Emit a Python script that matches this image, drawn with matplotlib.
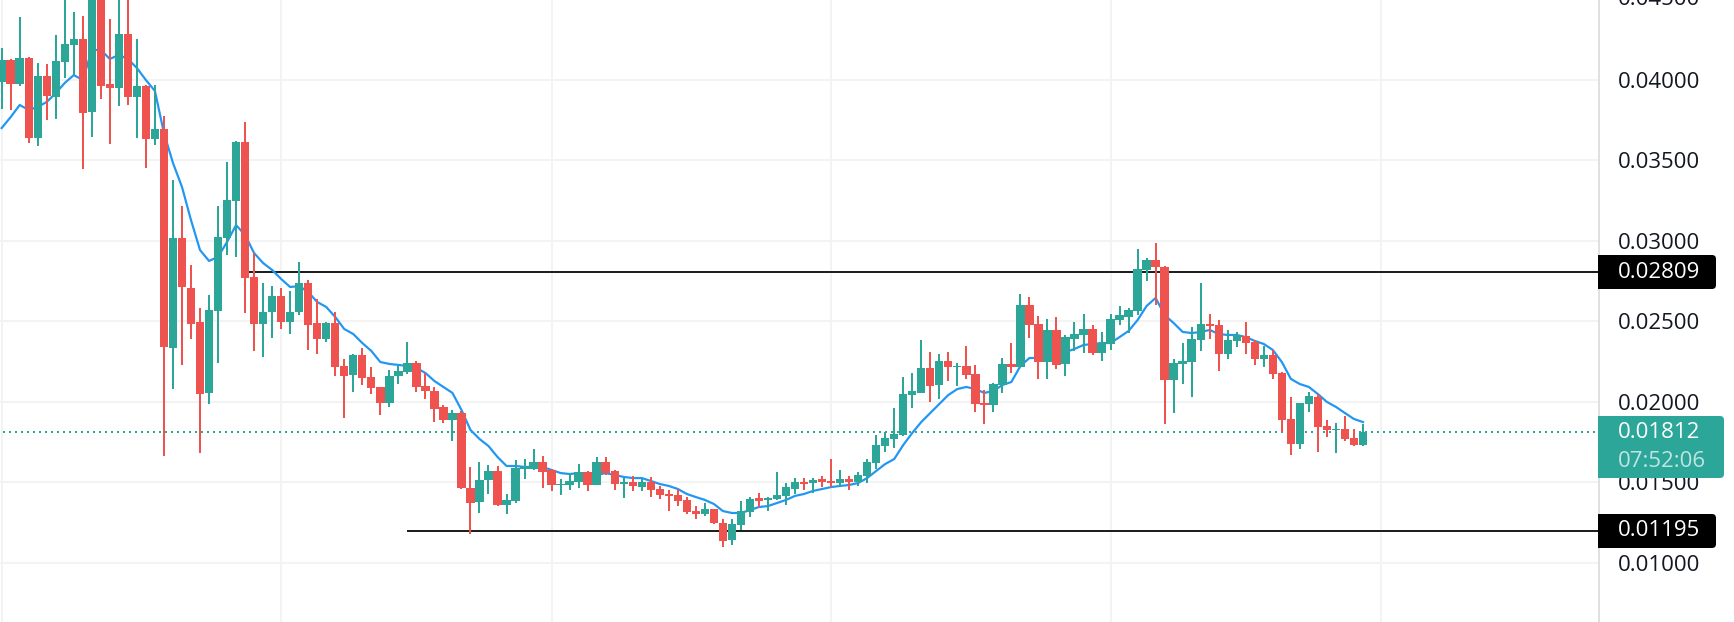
import matplotlib
matplotlib.use('Agg')
import matplotlib.pyplot as plt
from matplotlib.patches import FancyBboxPatch, Rectangle
from matplotlib.transforms import IdentityTransform

plt.rcParams['font.family'] = 'Open Sans'

# ohlc, one entry per daily candle
opens = [
    0.03987, 0.04124, 0.03975, 0.04136, 0.03639, 0.04024, 0.03894, 0.04111, 0.04217, 0.04254,
    0.03800, 0.04509, 0.03975, 0.03950, 0.04285, 0.03894, 0.03962, 0.03633, 0.03695, 0.02334,
    0.03018, 0.02707, 0.02496, 0.02055, 0.02564, 0.03018, 0.03247, 0.03614, 0.02775, 0.02483,
    0.02558, 0.02657, 0.02496, 0.02558, 0.02738, 0.02489, 0.02390, 0.02489, 0.02222, 0.02166,
    0.02291, 0.02154, 0.02092, 0.01992, 0.02160, 0.02185, 0.02241, 0.02098, 0.02067, 0.01968,
    0.01887, 0.01930, 0.01464, 0.01377, 0.01514, 0.01570, 0.01359, 0.01383, 0.01582, 0.01582,
    0.01626, 0.01576, 0.01483, 0.01483, 0.01501, 0.01564, 0.01483, 0.01626, 0.01570, 0.01489,
    0.01501, 0.01470, 0.01501, 0.01458, 0.01427, 0.01421, 0.01390, 0.01321, 0.01303, 0.01334,
    0.01247, 0.01141, 0.01234, 0.01315, 0.01402, 0.01390, 0.01396, 0.01415, 0.01458, 0.01501,
    0.01495, 0.01520, 0.01508, 0.01495, 0.01520, 0.01501, 0.01539, 0.01620, 0.01725, 0.01769,
    0.01794, 0.02042, 0.02055, 0.02210, 0.02104, 0.02253, 0.02216, 0.02222, 0.02173, 0.01992,
    0.01980, 0.02104, 0.02235, 0.02216, 0.02601, 0.02483, 0.02247, 0.02446, 0.02235, 0.02390,
    0.02415, 0.02452, 0.02303, 0.02359, 0.02508, 0.02527, 0.02564, 0.02819, 0.02881, 0.02837,
    0.02135, 0.02235, 0.02247, 0.02384, 0.02483, 0.02477, 0.02297, 0.02378, 0.02409, 0.02371,
    0.02266, 0.02291, 0.02179, 0.01893, 0.01738, 0.01986, 0.02030, 0.01849, 0.01825, 0.01831,
    0.01775, 0.01731,
]
highs = [
    0.04198, 0.04130, 0.04391, 0.04142, 0.04105, 0.04099, 0.04279, 0.04527, 0.04422, 0.04397,
    0.04527, 0.04527, 0.04378, 0.04527, 0.04527, 0.04254, 0.03968, 0.03968, 0.03776, 0.03378,
    0.03216, 0.02850, 0.02583, 0.02663, 0.03216, 0.03490, 0.03620, 0.03738, 0.02924, 0.02738,
    0.02719, 0.02707, 0.02688, 0.02869, 0.02757, 0.02639, 0.02496, 0.02558, 0.02266, 0.02297,
    0.02334, 0.02216, 0.02092, 0.02197, 0.02222, 0.02371, 0.02253, 0.02179, 0.02092, 0.01980,
    0.01949, 0.01943, 0.01595, 0.01626, 0.01607, 0.01601, 0.01427, 0.01638, 0.01644, 0.01707,
    0.01663, 0.01582, 0.01520, 0.01557, 0.01613, 0.01570, 0.01657, 0.01657, 0.01576, 0.01526,
    0.01539, 0.01520, 0.01533, 0.01477, 0.01452, 0.01458, 0.01408, 0.01352, 0.01371, 0.01334,
    0.01272, 0.01272, 0.01383, 0.01408, 0.01433, 0.01408, 0.01564, 0.01495, 0.01526, 0.01526,
    0.01526, 0.01539, 0.01644, 0.01576, 0.01539, 0.01564, 0.01644, 0.01794, 0.01812, 0.01961,
    0.02154, 0.02179, 0.02384, 0.02309, 0.02297, 0.02309, 0.02241, 0.02347, 0.02229, 0.02073,
    0.02117, 0.02272, 0.02365, 0.02670, 0.02651, 0.02533, 0.02514, 0.02527, 0.02415, 0.02496,
    0.02545, 0.02477, 0.02434, 0.02545, 0.02595, 0.02583, 0.02949, 0.02893, 0.02987, 0.02844,
    0.02266, 0.02365, 0.02465, 0.02738, 0.02545, 0.02508, 0.02446, 0.02434, 0.02496, 0.02384,
    0.02347, 0.02322, 0.02185, 0.02030, 0.01992, 0.02061, 0.02048, 0.01887, 0.01868, 0.01912,
    0.01831, 0.01862,
]
lows = [
    0.03819, 0.03813, 0.03962, 0.03608, 0.03589, 0.03751, 0.03757, 0.04012, 0.04030, 0.03446,
    0.03645, 0.03881, 0.03602, 0.03838, 0.03844, 0.03639, 0.03453, 0.03595, 0.01663, 0.02079,
    0.02229, 0.02390, 0.01682, 0.01986, 0.02241, 0.02912, 0.02900, 0.02552, 0.02316, 0.02278,
    0.02396, 0.02452, 0.02421, 0.02539, 0.02322, 0.02297, 0.02371, 0.02160, 0.01899, 0.02061,
    0.02104, 0.02048, 0.01918, 0.01968, 0.02110, 0.02173, 0.02061, 0.02017, 0.01874, 0.01868,
    0.01756, 0.01458, 0.01178, 0.01309, 0.01427, 0.01352, 0.01303, 0.01371, 0.01520, 0.01576,
    0.01464, 0.01446, 0.01421, 0.01452, 0.01464, 0.01446, 0.01483, 0.01545, 0.01452, 0.01402,
    0.01446, 0.01446, 0.01408, 0.01396, 0.01321, 0.01352, 0.01303, 0.01272, 0.01290, 0.01240,
    0.01098, 0.01110, 0.01203, 0.01284, 0.01346, 0.01321, 0.01390, 0.01359, 0.01427, 0.01452,
    0.01433, 0.01470, 0.01470, 0.01470, 0.01452, 0.01477, 0.01495, 0.01582, 0.01688, 0.01713,
    0.01787, 0.01961, 0.02055, 0.01999, 0.02017, 0.02129, 0.02098, 0.02142, 0.01936, 0.01862,
    0.01936, 0.02055, 0.02179, 0.02216, 0.02396, 0.02142, 0.02142, 0.02204, 0.02160, 0.02316,
    0.02303, 0.02291, 0.02253, 0.02322, 0.02477, 0.02427, 0.02539, 0.02750, 0.02601, 0.01862,
    0.01930, 0.02110, 0.02030, 0.02316, 0.02390, 0.02191, 0.02266, 0.02340, 0.02297, 0.02229,
    0.02216, 0.02142, 0.01812, 0.01669, 0.01707, 0.01936, 0.01688, 0.01781, 0.01682, 0.01756,
    0.01725, 0.01725,
]
closes = [
    0.04124, 0.03975, 0.04136, 0.03639, 0.04024, 0.03900, 0.04117, 0.04223, 0.04254, 0.03794,
    0.04509, 0.03962, 0.03950, 0.04285, 0.03894, 0.03962, 0.03633, 0.03695, 0.02340, 0.03018,
    0.02713, 0.02483, 0.02048, 0.02570, 0.03024, 0.03254, 0.03614, 0.02769, 0.02483, 0.02558,
    0.02657, 0.02496, 0.02558, 0.02738, 0.02477, 0.02390, 0.02489, 0.02216, 0.02160, 0.02291,
    0.02148, 0.02086, 0.01992, 0.02160, 0.02191, 0.02241, 0.02092, 0.02067, 0.01955, 0.01887,
    0.01930, 0.01464, 0.01371, 0.01514, 0.01570, 0.01359, 0.01390, 0.01589, 0.01595, 0.01626,
    0.01564, 0.01483, 0.01489, 0.01508, 0.01564, 0.01483, 0.01626, 0.01557, 0.01489, 0.01501,
    0.01477, 0.01501, 0.01452, 0.01421, 0.01415, 0.01383, 0.01315, 0.01303, 0.01334, 0.01247,
    0.01135, 0.01240, 0.01321, 0.01396, 0.01383, 0.01402, 0.01421, 0.01470, 0.01501, 0.01489,
    0.01514, 0.01501, 0.01495, 0.01520, 0.01501, 0.01545, 0.01626, 0.01731, 0.01775, 0.01800,
    0.02048, 0.02067, 0.02210, 0.02098, 0.02253, 0.02216, 0.02222, 0.02166, 0.01986, 0.01980,
    0.02110, 0.02235, 0.02216, 0.02601, 0.02477, 0.02247, 0.02446, 0.02229, 0.02402, 0.02421,
    0.02452, 0.02303, 0.02365, 0.02514, 0.02539, 0.02570, 0.02825, 0.02881, 0.02837, 0.02135,
    0.02241, 0.02253, 0.02390, 0.02483, 0.02471, 0.02297, 0.02384, 0.02415, 0.02365, 0.02266,
    0.02291, 0.02173, 0.01887, 0.01738, 0.01992, 0.02036, 0.01843, 0.01825, 0.01831, 0.01769,
    0.01731, 0.01812,
]
# blue moving average, same length as the candles
ma_line = [
    0.03701, 0.03769, 0.03844, 0.03813, 0.03832, 0.03863, 0.03918, 0.03981, 0.04030, 0.03999,
    0.04186, 0.04186, 0.04130, 0.04155, 0.04130, 0.04074, 0.03999, 0.03931, 0.03670, 0.03484,
    0.03335, 0.03129, 0.02943, 0.02875, 0.02900, 0.02993, 0.03098, 0.03036, 0.02924, 0.02862,
    0.02819, 0.02763, 0.02713, 0.02719, 0.02682, 0.02620, 0.02589, 0.02527, 0.02452, 0.02421,
    0.02365, 0.02316, 0.02247, 0.02235, 0.02229, 0.02222, 0.02210, 0.02179, 0.02129, 0.02092,
    0.02055, 0.01949, 0.01825, 0.01769, 0.01725, 0.01657, 0.01601, 0.01601, 0.01595, 0.01595,
    0.01595, 0.01576, 0.01557, 0.01551, 0.01557, 0.01545, 0.01545, 0.01557, 0.01545, 0.01533,
    0.01526, 0.01526, 0.01508, 0.01489, 0.01477, 0.01458, 0.01427, 0.01408, 0.01390, 0.01365,
    0.01321, 0.01309, 0.01309, 0.01327, 0.01346, 0.01352, 0.01371, 0.01390, 0.01415, 0.01427,
    0.01446, 0.01458, 0.01470, 0.01477, 0.01483, 0.01495, 0.01526, 0.01570, 0.01613, 0.01644,
    0.01731, 0.01806, 0.01874, 0.01930, 0.01986, 0.02042, 0.02079, 0.02092, 0.02079, 0.02055,
    0.02067, 0.02104, 0.02123, 0.02222, 0.02272, 0.02272, 0.02291, 0.02303, 0.02309, 0.02328,
    0.02353, 0.02359, 0.02365, 0.02365, 0.02402, 0.02440, 0.02508, 0.02595, 0.02645, 0.02539,
    0.02489, 0.02434, 0.02427, 0.02434, 0.02446, 0.02421, 0.02415, 0.02415, 0.02402, 0.02378,
    0.02359, 0.02322, 0.02247, 0.02142, 0.02110, 0.02092, 0.02048, 0.01999, 0.01968, 0.01930,
    0.01893, 0.01874,
]

price_ticks = [0.01, 0.015, 0.02, 0.025, 0.03, 0.035, 0.04]
top_tick = 0.045
month_starts = [0, 31, 61, 92, 123, 153]

resistance = 0.02809
resistance_from = 27
support = 0.01195
support_from = 45
last_price = 0.01812
countdown = '07:52:06'

GREEN = '#2da69a'
RED = '#ef5350'
BLUE = '#2196f3'
GRID = '#f3f3f3'
TEXT = '#131722'
FONT_SIZE = 16
PX = 72 / 100  # one pixel in points at dpi 100

W, H = 1734, 622
PANE_W = 1599
LABEL_X = 1618

fig = plt.figure(figsize=(W / 100, H / 100), dpi=100, facecolor='white')
ax = fig.add_axes([0, 0, PANE_W / W, 1])
ax.set_xlim(-0.185, 177.18)
ax.set_ylim(0.006316, 0.044964)

for s in ['top', 'left', 'bottom']:
    ax.spines[s].set_visible(False)
ax.spines['right'].set_color('#e0e0e0')
ax.spines['right'].set_linewidth(2 * PX)

ax.set_xticks(month_starts)
ax.set_xticklabels([])
ax.set_yticks(price_ticks)
ax.set_yticklabels(['%.5f' % t for t in price_ticks])
ax.yaxis.tick_right()
ax.tick_params(axis='both', length=0)
ax.tick_params(axis='y', pad=(LABEL_X - PANE_W) * PX, labelsize=FONT_SIZE, labelcolor=TEXT)
ax.grid(True, color=GRID, linewidth=2 * PX)
ax.set_axisbelow(True)

# the top label sits just past the edge of the pane, half cut off
ax.annotate('%.5f' % top_tick, xy=(1, top_tick), xycoords=('axes fraction', 'data'),
            xytext=((LABEL_X - PANE_W) * PX, 0), textcoords='offset points',
            va='center', ha='left', fontsize=FONT_SIZE, color=TEXT, annotation_clip=False)

# levels and the moving average go under the candles
ax.hlines(resistance, resistance_from, 177.18, color='#1f1f1f', linewidth=2 * PX, zorder=2)
ax.hlines(support, support_from, 177.18, color='#1f1f1f', linewidth=2 * PX, zorder=2)
ax.plot([0.2, 177.18], [last_price, last_price], color=GREEN, linewidth=2 * PX,
        linestyle=(0, (1, 2)), zorder=2)

x = list(range(len(closes)))
ax.plot(x, ma_line, color=BLUE, linewidth=2.2 * PX, zorder=3)

colors = [GREEN if c >= o else RED for o, c in zip(opens, closes)]
ax.vlines(x, lows, highs, colors=colors, linewidth=2 * PX, zorder=4)
bottoms = [min(o, c) for o, c in zip(opens, closes)]
heights = [abs(c - o) for o, c in zip(opens, closes)]
ax.bar(x, heights, bottom=bottoms, width=8.4 / 9.015, color=colors, linewidth=0, zorder=5)


def price_y(price):
    return ax.transData.transform((0, price))[1]


def price_box(price, color, right, up, down):
    # square against the axis, rounded on the outer side
    y = round(price_y(price))
    tr = IdentityTransform()
    fig.add_artist(FancyBboxPatch((PANE_W, y - down), right - PANE_W, up + down,
                                  boxstyle='round,pad=0,rounding_size=4', snap=False,
                                  facecolor=color, edgecolor='none', transform=tr, zorder=5))
    fig.add_artist(Rectangle((PANE_W - 1, y - down), 20, up + down, snap=False,
                             facecolor=color, edgecolor='none', transform=tr, zorder=5))
    fig.text(LABEL_X / W, y / H, '%.5f' % price, color='white', fontsize=FONT_SIZE,
             va='center', ha='left', zorder=6)


price_box(resistance, '#000000', 1716, 17, 17)
price_box(support, '#000000', 1716, 17, 17)
price_box(last_price, GREEN, 1724, 16, 46)
fig.text(LABEL_X / W, (price_y(last_price) - 29) / H, countdown, color='white', alpha=0.7,
         fontsize=FONT_SIZE, va='center', ha='left', zorder=6)

fig.savefig('out.png', dpi=100)
